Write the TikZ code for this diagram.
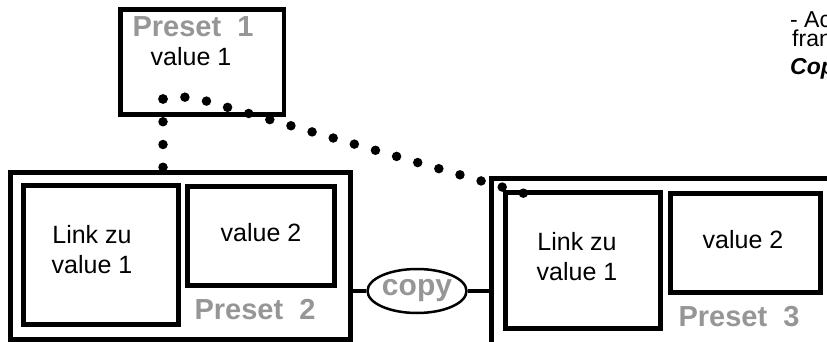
\documentclass[tikz,border=0pt]{standalone}
\usepackage{fontspec}
\setmainfont{Liberation Sans}
\usetikzlibrary{shapes.geometric}
\definecolor{presetgray}{RGB}{150,150,150}

\begin{document}
\begin{tikzpicture}[
  x=1pt,y=-1pt,
  frame/.style={draw,line width=4.5pt,inner sep=0pt},
  valtext/.style={align=center,inner sep=0pt,font=\fontsize{25}{30}\selectfont},
  title/.style={text=presetgray,inner sep=0pt,font=\fontsize{29}{30}\selectfont\bfseries},
  note/.style={anchor=base west,inner sep=0pt,font=\fontsize{23}{24}\selectfont},
  dotline/.style={line width=9.5pt,dash pattern=on 0pt off 22pt,line cap=round},
  link/.style={line width=4pt}
]
  \useasboundingbox (0,0) rectangle (827,342);
  \clip (0,0) rectangle (827,342);

  % preset 1
  \node[frame,minimum width=163.5pt,minimum height=105pt] (p1) at (202,62) {};
  \node[title] (p1title) at (193,27) {Preset\ \ 1};
  \node[valtext] (p1val) at (191,57) {value 1};

  % preset 2
  \node[frame,line width=5pt,minimum width=340pt,minimum height=167pt] (p2) at (180,256) {};
  \node[frame,line width=5pt,minimum width=154.5pt,minimum height=139pt] (p2link) at (101,254.5) {};
  \node[frame,line width=5pt,minimum width=146.5pt,minimum height=99.5pt] (p2val) at (261,236) {};
  \node[valtext] (p2linktext) at (92,250) {Link zu\\value 1};
  \node[valtext] (p2valtext) at (261,233) {value 2};
  \node[title] (p2title) at (255,310) {Preset\ \ 2};

  % copy
  \node[draw,ellipse,line width=2.5pt,minimum width=88pt,minimum height=44pt,inner sep=0pt,
        text=presetgray,font=\fontsize{30}{30}\selectfont\bfseries] (copy) at (417,291) {copy};

  % preset 3
  \node[frame,line width=5pt,minimum width=509pt,minimum height=241.5pt] (p3) at (745.5,299.25) {};
  \node[frame,line width=5pt,minimum width=155.5pt,minimum height=136pt] (p3link) at (582.75,260.5) {};
  \node[frame,line width=5pt,minimum width=150pt,minimum height=99.5pt] (p3val) at (745.5,242.75) {};
  \node[valtext] (p3linktext) at (577,257) {Link zu\\value 1};
  \node[valtext] (p3valtext) at (743,240) {value 2};
  \node[title] (p3title) at (739,317) {Preset\ \ 3};

  \draw[link] (p2.east |- copy.west) -- (copy.west);
  \draw[link] (copy.east) -- (p3.west |- copy.east);

  % links to value 1
  \coordinate (dotsrc) at (163,99);
  \coordinate (p2dot) at (163,190);
  \coordinate (bend) at (216,104);
  \coordinate (p3dot) at (533,196);
  \draw[dotline,dash pattern=on 0pt off 22.75pt] (dotsrc) -- (p2dot);
  \draw[dotline] (dotsrc) .. controls (190,96) .. (bend) -- (p3dot);

  % notes
  \node[note] (note1) at (790,28) {- Ac};
  \node[note] (note2) at (792,47) {fran};
  \node[note,font=\fontsize{23}{24}\selectfont\bfseries\itshape] (note3) at (790,75) {Cop};
\end{tikzpicture}
\end{document}
